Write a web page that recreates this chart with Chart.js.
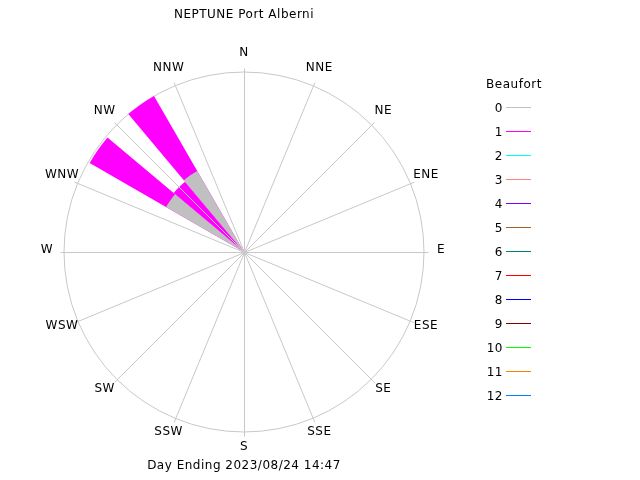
<!DOCTYPE html>
<html>
<head>
<meta charset="utf-8">
<title>NEPTUNE Port Alberni</title>
<script src="https://cdn.jsdelivr.net/npm/chart.js@4/dist/chart.umd.min.js"></script>
<style>
  html, body { margin:0; padding:0; background:#fff; }
  canvas { display:block; }
</style>
</head>
<body>
<canvas id="rose" width="640" height="480"></canvas>
<script>
const titleText = "NEPTUNE Port Alberni";
const footerText = "Day Ending 2023/08/24 14:47";

// compass labels for the 16 spokes, clockwise from N
const directions = ["N","NNE","NE","ENE","E","ESE","SE","SSE","S","SSW","SW","WSW","W","WNW","NW","NNW"];

// 36 sectors of 10 degrees, clockwise from N
const sectors = ["0","10","20","30","40","50","60","70","80","90","100","110",
  "120","130","140","150","160","170","180","190","200","210","220","230",
  "240","250","260","270","280","290","300","310","320","330","340","350"];

// Beaufort 0 and 1 amounts per sector (only the NW sectors have wind)
const beaufort0 = [0,0,0,0,0,0,0,0,0,0,0,0, 0,0,0,0,0,0,0,0,0,0,0,0, 0,0,0,0,0,0,50,0,52,0,0,0];
const beaufort1 = [0,0,0,0,0,0,0,0,0,0,0,0, 0,0,0,0,0,0,0,0,0,0,0,0, 0,0,0,0,0,0,49,51,48,0,0,0];

const beaufortLabels = ["0","1","2","3","4","5","6","7","8","9","10","11","12"];
const beaufortColors = ["#c0c0c0","#ff00ff","#00ffff","#ff8080","#8000ff","#a0602a",
  "#008070","#ff0000","#0000ff","#800000","#00ff00","#ff8000","#0080ff"];

const radialMax = 100;
const font = '12px "DejaVu Sans"';
const gridColor = "#c8c8c8";

// stack: outer ring is the running total, inner one drawn on top
const total01 = beaufort0.map((v, i) => v + beaufort1[i]);

// spokes, direction labels, title, footer and Beaufort key
const decor = {
  id: "decor",
  afterDatasetsDraw(chart) {
    const ctx = chart.ctx;
    const r = chart.scales.r;
    const cx = r.xCenter, cy = r.yCenter, R = r.drawingArea;
    ctx.save();
    ctx.strokeStyle = gridColor;
    ctx.lineWidth = 1;
    directions.forEach((d, i) => {
      const a = i * Math.PI / 8;
      ctx.beginPath();
      ctx.moveTo(cx + 0.5, cy + 0.5);
      ctx.lineTo(cx + 0.5 + Math.sin(a) * (R + 4), cy + 0.5 - Math.cos(a) * (R + 4));
      ctx.stroke();
    });
    ctx.fillStyle = "#000";
    ctx.font = font;
    ctx.letterSpacing = "0.5px";
    ctx.textAlign = "center";
    ctx.textBaseline = "middle";
    directions.forEach((d, i) => {
      const a = i * Math.PI / 8;
      ctx.fillText(d, cx + Math.sin(a) * 197, cy - Math.cos(a) * 197 - 2);
    });
    ctx.fillText(titleText, cx, 15);
    ctx.fillText(footerText, cx, 466);
    ctx.fillText("Beaufort", 514, 85);
    ctx.textAlign = "right";
    beaufortLabels.forEach((b, i) => {
      const y = 107.5 + i * 24;
      ctx.fillStyle = "#000";
      ctx.fillText(b, 503, y + 1);
      ctx.strokeStyle = beaufortColors[i];
      ctx.beginPath();
      ctx.moveTo(506, y);
      ctx.lineTo(531, y);
      ctx.stroke();
    });
    ctx.restore();
  }
};

new Chart(document.getElementById("rose"), {
  type: "polarArea",
  data: {
    labels: sectors,
    datasets: [
      { label: "0", data: beaufort0, backgroundColor: beaufortColors[0], borderWidth: 0 },
      { label: "1", data: total01, backgroundColor: beaufortColors[1], borderWidth: 0 }
    ]
  },
  options: {
    responsive: false,
    animation: false,
    layout: { padding: { left: 64, top: 72, right: 216, bottom: 48 } },
    plugins: { legend: { display: false }, title: { display: false }, tooltip: { enabled: false } },
    scales: {
      r: {
        min: 0,
        max: radialMax,
        startAngle: 0,
        ticks: { display: false, stepSize: radialMax },
        grid: { color: gridColor, circular: true },
        angleLines: { display: false },
        pointLabels: { display: false }
      }
    }
  },
  plugins: [decor]
});
</script>
</body>
</html>
